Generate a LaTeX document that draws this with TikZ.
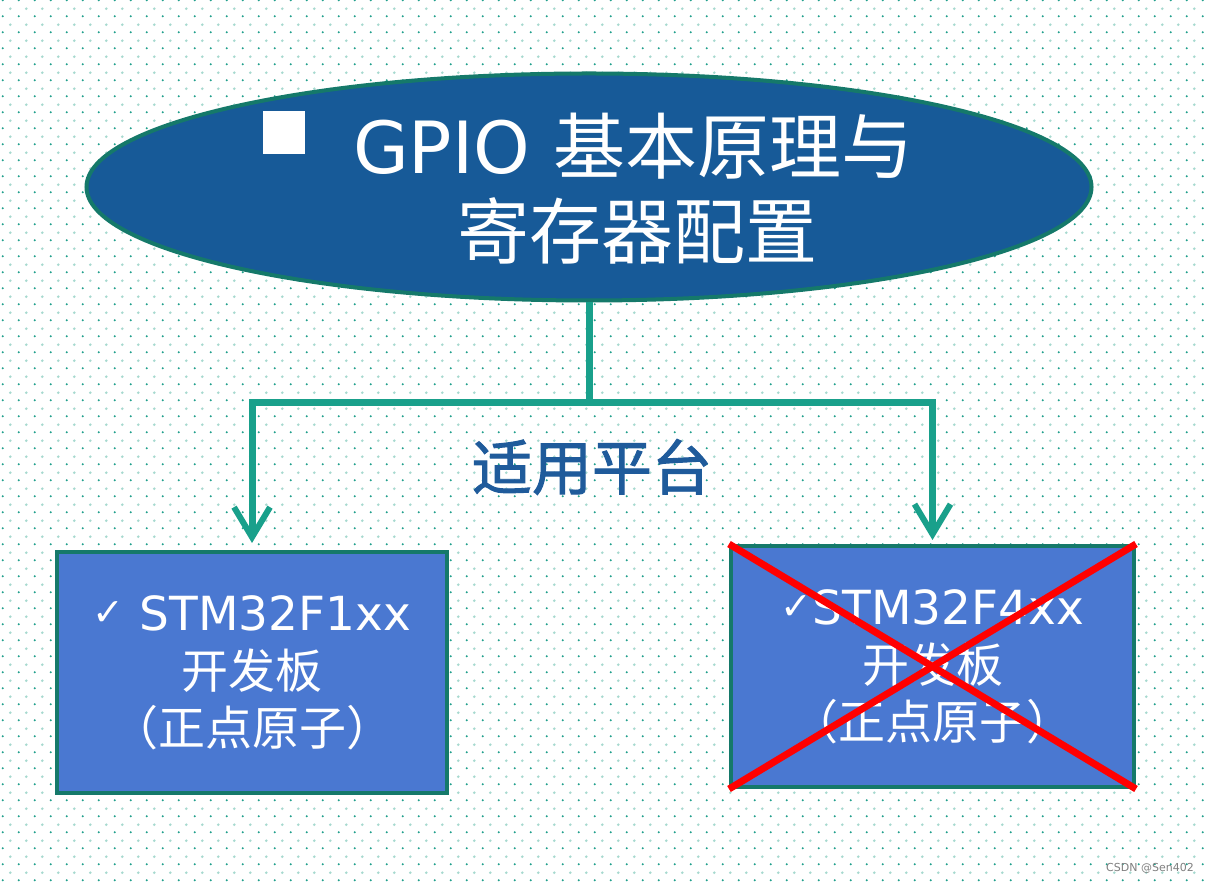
\documentclass[tikz,border=0pt]{standalone}
\usepackage{fontspec}
\setmainfont{DejaVu Sans}
\newfontfamily\cjk{Noto Sans CJK SC}
\newfontfamily\cjkmed[FakeBold=1.6]{Noto Sans CJK SC}
\usetikzlibrary{arrows.meta,positioning,shapes.geometric,patterns.meta}
\definecolor{gpblue}{HTML}{175A98}
\definecolor{gpedge}{HTML}{15796A}
\definecolor{gpbox}{HTML}{4A78D1}
\definecolor{gpteal}{HTML}{19A08B}
\definecolor{gplabel}{HTML}{1F5B9B}
\definecolor{dotdark}{HTML}{22A08D}
\definecolor{dotlight}{HTML}{A6D9CF}
\pgfdeclarepattern{
  name=stagdots, type=colored,
  bottom left={\pgfpoint{0pt}{0pt}}, top right={\pgfpoint{16pt}{16pt}},
  tile size={\pgfpoint{16pt}{16pt}},
  code={
    \pgfsetfillcolor{dotdark}\pgfpathcircle{\pgfpoint{4pt}{4pt}}{1.2pt}\pgfusepath{fill}
    \pgfsetfillcolor{dotlight}\pgfpathcircle{\pgfpoint{12pt}{12pt}}{1.5pt}\pgfusepath{fill}
  }}
\newcommand{\chk}{{\fontsize{38}{38}\selectfont\raisebox{5pt}{✓}}}
\begin{document}
\begin{tikzpicture}[x=1pt,y=1pt,
 titleell/.style={ellipse,draw=gpedge,line width=4pt,fill=gpblue,minimum width=1005pt,minimum height=227pt,inner sep=0pt},
 titletext/.style={text=white,inner sep=0pt,font=\fontsize{72}{80}\selectfont},
 board/.style={draw=gpedge,line width=4pt,fill=gpbox,text=white,align=center,inner sep=0pt,font=\fontsize{47}{57}\selectfont},
 conn/.style={draw=gpteal,line width=7pt},
 arr/.style={conn,-{Straight Barb[length=30pt,width=36pt,line width=6pt]}},
 crossline/.style={draw=red,line width=7pt}
]
\useasboundingbox (0,0) rectangle (1206,883);
\fill[white] (0,0) rectangle (1206,883);
\fill[pattern=stagdots] (0,0) rectangle (1206,883);

% title ellipse
\node[titleell] (title) at (589,696) {};
\node[fill=white,minimum width=42pt,minimum height=43pt,inner sep=0pt] (bullet) at (284,750) {};
\node[titletext] (tline1) at (633,737) {GPIO {\cjk 基本原理与}};
\node[titletext] (tline2) at (637,652) {\cjk 寄存器配置};

% boards
\node[board,minimum width=390pt,minimum height=241pt] (f1) at (252,210.5)
  {\chk{} STM32F1xx\\[1pt]{\cjk 开发板}\\{\cjk （正点原子）}};
\node[board,minimum width=403pt,minimum height=241pt] (f4) at (932.5,216.5)
  {\chk STM32F4xx\\[1pt]{\cjk 开发板}\\{\cjk （正点原子）}};
\draw[crossline] (f4.north west) -- (f4.south east);
\draw[crossline] (f4.south west) -- (f4.north east);

% connectors
\coordinate (split) at (589,480);
\draw[conn] (title.south) -- (split);
\draw[arr] (split) -| ([yshift=7pt]f1.north);
\draw[arr] (split) -| ([yshift=4pt]f4.north);
\node[text=gplabel,font=\cjkmed\fontsize{60}{64}\selectfont] (platform) at (592,416) {适用平台};

\node[text=gray,font=\fontsize{11}{12}\selectfont] (mark) at (1150,15) {CSDN @Sen402};
\end{tikzpicture}
\end{document}
